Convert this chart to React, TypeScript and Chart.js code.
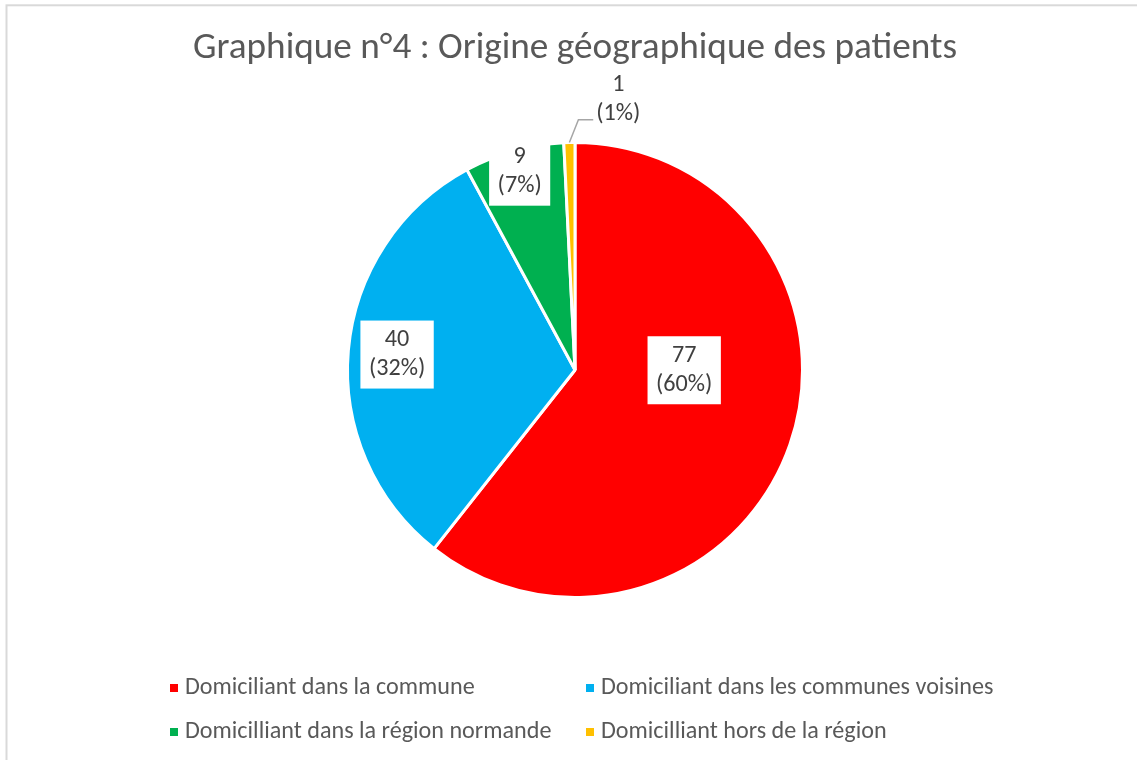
import React, { useEffect, useRef } from "react";
import { Chart, registerables } from "chart.js";
Chart.register(...registerables);

const title = "Graphique n°4 : Origine géographique des patients";
const categories = [
  "Domiciliant dans la commune",
  "Domiciliant dans les communes voisines",
  "Domicilliant dans la région normande",
  "Domicilliant hors de la région",
];
const values = [77, 40, 9, 1];
const percentLabels = ["60%", "32%", "7%", "1%"];
const colors = ["#FF0000", "#00B0F0", "#00B050", "#FFC000"];

// label placement (style)
const labelRadial = [0.48, 0.785, 0.905, 1.205];
const labelAngleOffset = [-19, 0, 0, 10.5];
const labelBoxed = [true, true, true, false];
const labelLeader = [false, false, false, true];

const FONT = "Carlito, Calibri, Lato, sans-serif";
const TITLE_TARGET_WIDTH = 764;

function scaleFor(ctx: CanvasRenderingContext2D) {
  ctx.save();
  ctx.font = `37px ${FONT}`;
  const w = ctx.measureText(title).width;
  ctx.restore();
  return TITLE_TARGET_WIDTH / w;
}

const overlay = {
  id: "overlay",
  beforeDraw(chart: any) {
    const ctx: CanvasRenderingContext2D = chart.ctx;
    const k = scaleFor(ctx);
    ctx.save();
    ctx.fillStyle = "#FFFFFF";
    ctx.fillRect(0, 0, chart.width, chart.height);
    ctx.strokeStyle = "#D9D9D9";
    ctx.lineWidth = 2;
    ctx.strokeRect(6.5, 5.3, chart.width + 20, chart.height + 20);
    ctx.fillStyle = "#595959";
    ctx.font = `${37 * k}px ${FONT}`;
    ctx.textAlign = "center";
    ctx.textBaseline = "middle";
    ctx.fillText(title, 575, 49);
    ctx.restore();
  },
  afterDatasetsDraw(chart: any) {
    const ctx: CanvasRenderingContext2D = chart.ctx;
    const k = scaleFor(ctx);
    const meta = chart.getDatasetMeta(0);
    ctx.save();
    ctx.font = `${24 * k}px ${FONT}`;
    ctx.textAlign = "center";
    ctx.textBaseline = "middle";
    const lh = 29.5;
    meta.data.forEach((arc: any, i: number) => {
      const p = arc.getProps(["x", "y", "startAngle", "endAngle", "outerRadius"], true);
      const midArc = (p.startAngle + p.endAngle) / 2;
      const a = midArc + (labelAngleOffset[i] * Math.PI) / 180;
      const r = p.outerRadius * labelRadial[i];
      const cx = p.x + Math.cos(a) * r;
      const cy = p.y + Math.sin(a) * r;
      const lines = [String(values[i]), `(${percentLabels[i]})`];
      const w = Math.max(...lines.map((l) => ctx.measureText(l).width));
      if (labelBoxed[i]) {
        ctx.fillStyle = "#FFFFFF";
        ctx.fillRect(cx - w / 2 - 8.5, cy - lh - 4.5, w + 17, 2 * lh + 9);
      }
      if (labelLeader[i]) {
        const sx = p.x + Math.cos(midArc) * p.outerRadius;
        const sy = p.y + Math.sin(midArc) * p.outerRadius;
        const ea = midArc + (2.2 * Math.PI) / 180;
        const ex = p.x + Math.cos(ea) * p.outerRadius * 1.1;
        const ey = p.y + Math.sin(ea) * p.outerRadius * 1.1;
        ctx.strokeStyle = "#A6A6A6";
        ctx.lineWidth = 1.5;
        ctx.beginPath();
        ctx.moveTo(sx, sy);
        ctx.lineTo(ex, ey);
        ctx.lineTo(cx - w / 2 - 3, ey);
        ctx.stroke();
      }
      ctx.fillStyle = "#404040";
      ctx.fillText(lines[0], cx, cy - lh / 2);
      ctx.fillText(lines[1], cx, cy + lh / 2);
    });
    ctx.restore();
  },
  afterDraw(chart: any) {
    const ctx: CanvasRenderingContext2D = chart.ctx;
    const k = scaleFor(ctx);
    const cols = [170, 586];
    const rows = [688, 732];
    ctx.save();
    ctx.font = `${24 * k}px ${FONT}`;
    ctx.textAlign = "left";
    ctx.textBaseline = "middle";
    categories.forEach((c, i) => {
      const x = cols[i % 2];
      const y = rows[Math.floor(i / 2)];
      ctx.fillStyle = colors[i];
      ctx.fillRect(x, y - 4, 8, 8);
      ctx.fillStyle = "#595959";
      ctx.fillText(c, x + 15, y);
    });
    ctx.restore();
  },
};

export default function App() {
  const ref = useRef<HTMLCanvasElement>(null);
  useEffect(() => {
    if (!ref.current) return;
    const chart = new Chart(ref.current, {
      type: "pie",
      data: {
        labels: categories,
        datasets: [
          {
            data: values,
            backgroundColor: colors,
            borderColor: "#FFFFFF",
            borderWidth: 3,
          },
        ],
      },
      options: {
        responsive: false,
        animation: false,
        layout: { padding: { top: 141, bottom: 161, left: 13, right: 0 } },
        plugins: {
          legend: { display: false },
          title: { display: false },
          tooltip: { enabled: false },
        },
      },
      plugins: [overlay],
    });
    return () => chart.destroy();
  }, []);
  return (
    <div style={{ position: "fixed", left: 0, top: 0, width: 1137, height: 760, background: "#fff" }}>
      <canvas ref={ref} width={1137} height={760} style={{ width: 1137, height: 760 }} />
    </div>
  );
}
